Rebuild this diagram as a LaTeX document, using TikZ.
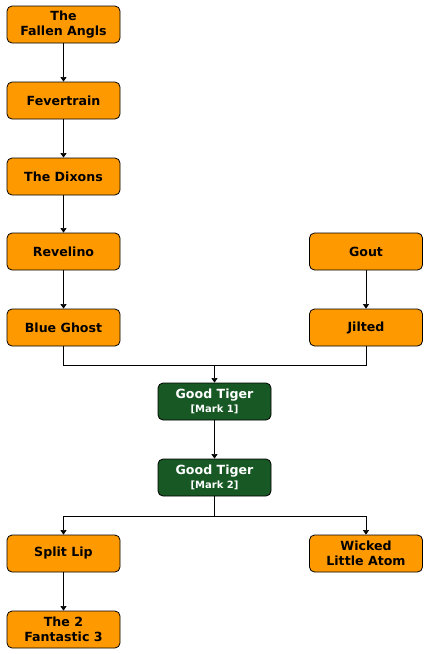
\documentclass[tikz,border=0pt]{standalone}
\usepackage{fontspec}
\setmainfont{DejaVu Sans}
\usetikzlibrary{arrows.meta}
\definecolor{boxorange}{RGB}{255,153,0}
\definecolor{boxgreen}{RGB}{24,88,36}
\begin{document}
\begin{tikzpicture}[x=1pt,y=-1pt,
  band/.style={draw=black,line width=0.8pt,rounded corners=5pt,minimum width=113pt,minimum height=37pt,inner sep=0pt,align=center,font=\fontsize{12.6}{15.5}\selectfont\bfseries,fill=boxorange,text=black},
  gband/.style={band,fill=boxgreen,text=white},
  conn/.style={draw=black,line width=0.6pt},
  arr/.style={conn,-{Triangle[length=4.5pt,width=6pt]}}]
\useasboundingbox (0,0) rectangle (428,654);
\node[band] (a) at (63.5,24.5) {The\\Fallen Angls};
\node[band] (b) at (63.5,100.5) {Fevertrain};
\node[band] (c) at (63.5,176.5) {The Dixons};
\node[band] (d) at (63.5,251.5) {Revelino};
\node[band] (e) at (63.5,327.5) {Blue Ghost};
\node[band] (g) at (366,251.5) {Gout};
\node[band] (j) at (366,327.5) {Jilted};
\node[gband] (t1) at (214.5,401.5) {Good Tiger\\[-1pt]{\fontsize{10}{11}\selectfont [Mark 1]}};
\node[gband] (t2) at (214.5,477.5) {Good Tiger\\[-1pt]{\fontsize{10}{11}\selectfont [Mark 2]}};
\node[band] (s) at (63.5,553.5) {Split Lip};
\node[band] (w) at (366,553.5) {Wicked\\Little Atom};
\node[band] (f) at (63.5,629.5) {The 2\\Fantastic 3};
\coordinate (m1) at (214.5,365);
\coordinate (m2) at (214.5,516);
\draw[arr] (a) -- (b);
\draw[arr] (b) -- (c);
\draw[arr] (c) -- (d);
\draw[arr] (d) -- (e);
\draw[arr] (g) -- (j);
\draw[conn] (e.south) |- (m1);
\draw[conn] (j.south) |- (m1);
\draw[arr] (m1) -- (t1);
\draw[arr] (t1) -- (t2);
\draw[conn] (t2) -- (m2);
\draw[arr] (m2) -| (s.north);
\draw[arr] (m2) -| (w.north);
\draw[arr] (s) -- (f);
\end{tikzpicture}
\end{document}
